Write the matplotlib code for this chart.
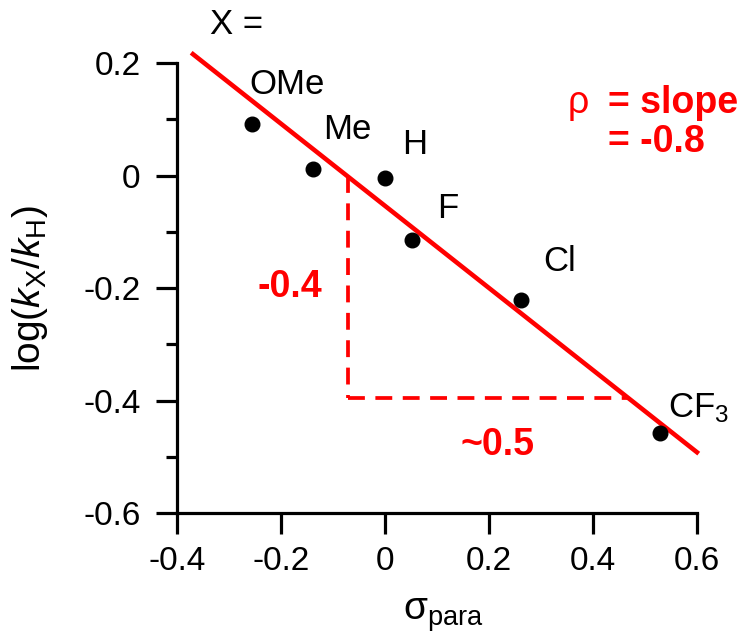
import numpy as np
import matplotlib
matplotlib.use('Agg')
import matplotlib.pyplot as plt
from matplotlib.ticker import MultipleLocator

plt.rcParams['font.family'] = ['Liberation Sans', 'DejaVu Sans']
plt.rcParams['mathtext.fontset'] = 'custom'
plt.rcParams['mathtext.rm'] = 'Liberation Sans'
plt.rcParams['mathtext.it'] = 'Liberation Sans:italic'

# substituent data (sigma_para, log(kX/kH))
subst = ['OMe', 'Me', 'H', 'F', 'Cl', 'CF$_3$']
sigma = [-0.255, -0.138, 0.0, 0.052, 0.262, 0.529]
logk = [0.092, 0.012, -0.004, -0.115, -0.221, -0.458]

# fitted line end points
fit_x = [-0.369, 0.60]
fit_y = [0.216, -0.492]

# slope triangle
tri_x = [-0.07, 0.47]
tri_y = [0.0, -0.395]

# label offsets in pixels (layout only)
lab_off = [(-3, 39), (10, 39), (17, 33), (25, 32), (22, 38), (8, 25)]

red = '#ff0000'
fig = plt.figure(figsize=(7.43, 6.38), dpi=100)
ax = fig.add_axes([0.238, 0.196, 0.700, 0.705])

ax.plot(fit_x, fit_y, '-', color=red, lw=3.3, clip_on=False, zorder=2)
# dashed triangle
ax.plot([tri_x[0], tri_x[0]], [tri_y[0], tri_y[1]], '--', color=red, lw=2.7,
        dashes=(4.5, 2.8), clip_on=False)
ax.plot([tri_x[0], tri_x[1]], [tri_y[1], tri_y[1]], '--', color=red, lw=2.7,
        dashes=(4.5, 2.8), clip_on=False)

ax.plot(sigma, logk, 'o', color='black', ms=10.5, clip_on=False, zorder=3)
for s, xx, yy, off in zip(subst, sigma, logk, lab_off):
    ax.annotate(s, (xx, yy), xytext=off, textcoords='offset pixels',
                fontsize=25, ha='left', va='center', annotation_clip=False)

ax.text(-0.337, 0.268, 'X =', fontsize=25, ha='left', va='center')

ax.text(-0.183, -0.198, '-0.4', color=red, fontsize=27, fontweight='bold',
        ha='center', va='center')
ax.text(0.217, -0.479, '~0.5', color=red, fontsize=27, fontweight='bold',
        ha='center', va='center')
ax.text(0.371, 0.129, 'ρ', color=red, fontsize=27, ha='center', va='center')
ax.text(0.429, 0.129, '= slope', color=red, fontsize=27, fontweight='bold',
        ha='left', va='center')
ax.text(0.429, 0.060, '= -0.8', color=red, fontsize=27, fontweight='bold',
        ha='left', va='center')

ax.set_xlim(-0.4, 0.6)
ax.set_ylim(-0.6, 0.2)
ax.set_xticks([-0.4, -0.2, 0, 0.2, 0.4, 0.6])
ax.set_xticklabels(['-0.4', '-0.2', '0', '0.2', '0.4', '0.6'])
ax.set_yticks([-0.6, -0.4, -0.2, 0, 0.2])
ax.set_yticklabels(['-0.6', '-0.4', '-0.2', '0', '0.2'])
ax.yaxis.set_minor_locator(MultipleLocator(0.1))

for side in ['top', 'right']:
    ax.spines[side].set_visible(False)
for side in ['left', 'bottom']:
    ax.spines[side].set_linewidth(2.3)
ax.tick_params(which='major', direction='out', length=15, width=2.3,
               labelsize=24)
ax.tick_params(axis='y', which='major', pad=11)
ax.tick_params(axis='x', which='major', pad=9)
ax.tick_params(which='minor', direction='out', length=8, width=2.3)

ax.set_xlabel(r'$\mathrm{\sigma}_{\mathrm{para}}$', fontsize=28)
ax.set_ylabel(r'log($\mathit{k}_{\mathrm{X}}/\mathit{k}_{\mathrm{H}}$)', fontsize=28)
ax.xaxis.set_label_coords(0.512, -0.185)
ax.yaxis.set_label_coords(-0.244, 0.5)

fig.savefig('out.png', dpi=100)
